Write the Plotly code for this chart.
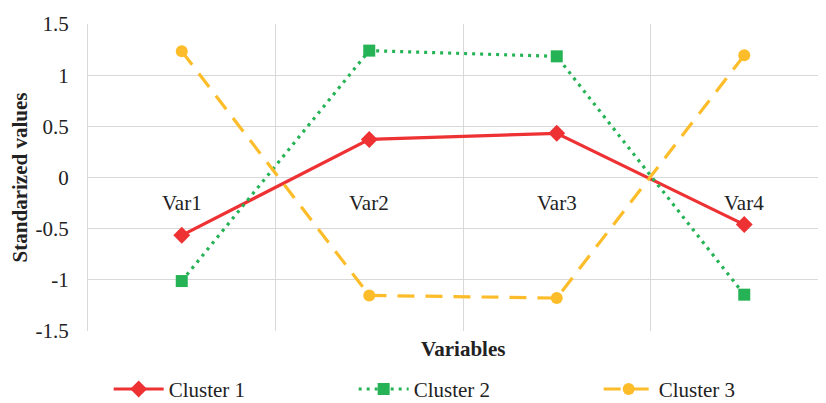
import plotly.graph_objects as go

categories = ["Var1", "Var2", "Var3", "Var4"]
cluster1 = [-0.565, 0.372, 0.432, -0.46]
cluster2 = [-1.012, 1.24, 1.184, -1.145]
cluster3 = [1.233, -1.152, -1.178, 1.194]
y_ticks = [-1.5, -1, -0.5, 0, 0.5, 1, 1.5]
y_ticklabels = ["-1.5", "-1", "-0.5", "0", "0.5", "1", "1.5"]

FONT = "Liberation Serif, Times New Roman, serif"
RED = "#EE3133"
GREEN = "#25B355"
YELLOW = "#FDBD2B"
FS = 21

fig = go.Figure()
fig.add_trace(go.Scatter(x=categories, y=cluster1, name="Cluster 1", mode="lines+markers",
                         line=dict(color=RED, width=3.2),
                         marker=dict(symbol="diamond", size=13, color=RED)))
fig.add_trace(go.Scatter(x=categories, y=cluster2, name="Cluster 2", mode="lines+markers",
                         line=dict(color=GREEN, width=3.2, dash="3px,5px"),
                         marker=dict(symbol="square", size=12, color=GREEN)))
fig.add_trace(go.Scatter(x=categories, y=cluster3, name="Cluster 3", mode="lines+markers",
                         line=dict(color=YELLOW, width=3.2, dash="17px,11px"),
                         marker=dict(symbol="circle", size=12, color=YELLOW)))

for c in categories:
    fig.add_annotation(x=c, y=0, xref="x", yref="y", text=c, showarrow=False,
                       yshift=-25, font=dict(family=FONT, size=FS, color="#222222"))

fig.add_annotation(x=0.508, y=0, xref="paper", yref="paper", yanchor="top", yshift=-4,
                   text="<b>Variables</b>", showarrow=False,
                   font=dict(family=FONT, size=FS, color="#222222"))

fig.update_layout(
    width=826, height=403,
    margin=dict(l=80, r=8, t=16, b=80, autoexpand=False),
    paper_bgcolor="white", plot_bgcolor="white",
    font=dict(family=FONT, size=FS, color="#222222"),
    showlegend=True,
    legend=dict(orientation="h", x=0.028, xanchor="left", y=-0.19, yanchor="middle",
                entrywidth=180, font=dict(family=FONT, size=FS, color="#222222"),
                itemwidth=50),
    xaxis=dict(type="category", range=[-0.5, 3.436], tickson="boundaries",
               showticklabels=False, ticks="", showgrid=True, gridcolor="#D9D9D9", gridwidth=1.3,
               zeroline=False, showline=False),
    yaxis=dict(range=[-1.5, 1.5], tickvals=y_ticks, ticktext=y_ticklabels,
               showgrid=True, gridcolor="#D9D9D9", gridwidth=1.3, zeroline=False,
               showline=True, linecolor="#D9D9D9", linewidth=1.3, ticks="",
               ticklabelstandoff=14,
               title=dict(text="<b>Standarized values</b>", standoff=4,
                          font=dict(family=FONT, size=FS, color="#222222"))),
)

fig.write_html("out.html")
